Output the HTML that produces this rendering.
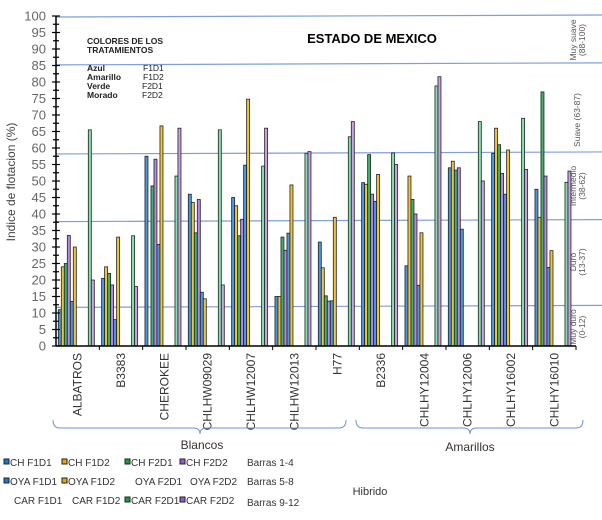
<!DOCTYPE html>
<html><head><meta charset="utf-8"><style>
html,body{margin:0;padding:0;background:#fff;}
svg{display:block;font-family:"Liberation Sans",sans-serif;}
</style></head><body>
<svg id="chart" width="602" height="520" viewBox="0 0 602 520" xmlns="http://www.w3.org/2000/svg">
<g id="grid"></g>
<g id="bars"></g>
<g id="axes"></g>
<text x="372" y="43" font-size="13" font-weight="bold" text-anchor="middle" fill="#000">ESTADO DE MEXICO</text>
<g font-size="8.5" font-weight="bold" fill="#222">
<text x="87" y="44">COLORES DE LOS</text><text x="87" y="53">TRATAMIENTOS</text>
<text x="87" y="71">Azul</text><text x="143" y="71" font-weight="normal">F1D1</text>
<text x="87" y="80">Amarillo</text><text x="143" y="80" font-weight="normal">F1D2</text>
<text x="87" y="89">Verde</text><text x="142" y="89" font-weight="normal">F2D1</text>
<text x="87" y="98">Morado</text><text x="142" y="98" font-weight="normal">F2D2</text>
</g>
<text transform="translate(15,182) rotate(-90)" font-size="12" text-anchor="middle" fill="#444">Indice de flotacion (%)</text>
<g font-size="8.5" fill="#555" text-anchor="middle">
<text transform="translate(576,40) rotate(-90)">Muy suave</text><text transform="translate(585,40) rotate(-90)">(88-100)</text>
<text transform="translate(580,120) rotate(-90)">Suave (63-87)</text>
<text transform="translate(576,186) rotate(-90)">Intermedio</text><text transform="translate(585,186) rotate(-90)">(38-62)</text>
<text transform="translate(576,262) rotate(-90)">Duro</text><text transform="translate(585,262) rotate(-90)">(13-37)</text>
<text transform="translate(576,327) rotate(-90)">Muy duro</text><text transform="translate(585,327) rotate(-90)">(0-12)</text>
</g>
<g fill="none" stroke="#6d93d6" stroke-width="1">
<path d="M53,420 Q53,428 60,428 L193,428 Q200,428 200,434 Q200,428 207,428 L339,428 Q346,428 346,420"/>
<path d="M356,420 Q356,428 363,428 L463,428 Q470,428 470,434 Q470,428 477,428 L576,428 Q583,428 583,420"/>
</g>
<text x="202" y="449" font-size="12" text-anchor="middle" fill="#333">Blancos</text>
<text x="470" y="451" font-size="12" text-anchor="middle" fill="#333">Amarillos</text>
<text x="370" y="495" font-size="11" text-anchor="middle" fill="#333">Hibrido</text>
<g id="legend" font-size="10" fill="#333"></g>
</svg>
<script>
const categories = ["ALBATROS","B3383","CHEROKEE","CHLHW09029","CHLHW12007","CHLHW12013","H77","B2336","CHLHY12004","CHLHY12006","CHLHY16002","CHLHY16010"];
const chF1D1 = [11,20.5,57.5,46,45,15,31.5,49.5,24.3,54,58.4,47.5];
const chF1D2 = [24,24,0,43.5,42.5,15,23.7,49,51.5,56,66,39];
const chF2D1 = [25,22,48.5,34.3,33.4,33,15.2,58,44.4,53.3,61,77];
const chF2D2 = [33.5,18.5,56.6,44.4,38.4,29,13.6,46,40,54,52.3,51.5];
const oyaF1D1 = [13.5,8,30.8,16.3,54.8,34.2,13.7,43.8,18.4,35.4,46,23.8];
const oyaF1D2 = [30,33,66.7,14.3,74.8,48.8,39,52,34.3,0,59.4,28.9];
const carF2D1 = [65.5,33.4,51.5,65.5,54.5,58.4,63.4,58.5,78.8,68,69,49.6];
const carF2D2 = [20,18,66,18.5,66,58.9,68,55,81.6,50,53.5,53];
const yTicks = [0,5,10,15,20,25,30,35,40,45,50,55,60,65,70,75,80,85,90,95,100];
const bandLines = [100,85.5,58.5,38,12];

const NS="http://www.w3.org/2000/svg";
const X0=56, X1=576, Y0=346, YTOP=16;
const catW=(X1-X0)/categories.length;
const barW=3;
function yScale(v){return Y0-(Y0-YTOP)*v/100;}
function xBar(ci,idx){return X0+ci*catW+2.3+idx*barW;}
function mk(tag,attrs,parent){const e=document.createElementNS(NS,tag);for(const k in attrs)e.setAttribute(k,attrs[k]);parent.appendChild(e);return e;}

const grid=document.getElementById('grid');
bandLines.forEach(v=>{
  const l=mk('line',{x1:X0,x2:602,y1:yScale(v)+1,y2:yScale(v)-1,stroke:'#7f9fdc','stroke-width':1.2},grid);
  
  
});

const series=[
 {name:'ch-f1d1',data:chF1D1,idx:0,fill:'#4a98e4'},
 {name:'ch-f1d2',data:chF1D2,idx:1,fill:'#f2c43a'},
 {name:'ch-f2d1',data:chF2D1,idx:2,fill:'#3cb46a'},
 {name:'ch-f2d2',data:chF2D2,idx:3,fill:'#b888e4'},
 {name:'oya-f1d1',data:oyaF1D1,idx:4,fill:'#4a98e4'},
 {name:'oya-f1d2',data:oyaF1D2,idx:5,fill:'#f2c43a'},
 {name:'car-f2d1',data:carF2D1,idx:10,fill:'#86e0aa'},
 {name:'car-f2d2',data:carF2D2,idx:11,fill:'#c9a2ec'}
];
const bars=document.getElementById('bars');
series.forEach(s=>{
  s.data.forEach((v,ci)=>{
    if(!v) return;
    const y=yScale(v);
    const r=mk('rect',{x:xBar(ci,s.idx),y:y,width:barW,height:Y0-y,fill:s.fill,stroke:'#222','stroke-width':0.8},bars);
    
    
  });
});

const axes=document.getElementById('axes');
const ya=mk('line',{x1:X0,x2:X0,y1:YTOP,y2:Y0,stroke:'#000','stroke-width':1.5},axes);


for(let v=0;v<=100;v+=2.5){
  const major=(v%5===0);
  mk('line',{x1:major?X0-4:X0-3,x2:major?X0+4:X0+3,y1:yScale(v),y2:yScale(v),stroke:'#000','stroke-width':1.2},axes);
}
yTicks.forEach(v=>{
  const t=mk('text',{x:X0-10,y:yScale(v)+4.5,'font-size':13,'text-anchor':'end',fill:'#666'},axes);
  t.textContent=v;
  
  
});
const xa=mk('line',{x1:X0,x2:X1,y1:Y0,y2:Y0,stroke:'#000','stroke-width':1.5},axes);


categories.forEach((c,ci)=>{
  mk('line',{x1:X0+(ci+1)*catW,x2:X0+(ci+1)*catW,y1:Y0,y2:Y0+4,stroke:'#000','stroke-width':1},axes);
  const cx=X0+ci*catW+catW/2;
  const t=mk('text',{transform:'translate('+(cx+4)+','+(Y0+7)+') rotate(-90)','font-size':12,'text-anchor':'end',fill:'#333'},axes);
  t.textContent=c;
  
  
});

const legendItems=[
 [7,466,'#1d78cc','CH F1D1'],[65,466,'#e8a800','CH F1D2'],[128,466,'#1c9a48','CH F2D1'],[183,466,'#9a58d0','CH F2D2'],[247,466,null,'Barras 1-4'],
 [7,485,'#1d78cc','OYA F1D1'],[65,485,'#e8a800','OYA F1D2'],[128,485,null,'  OYA F2D1'],[183,485,null,'  OYA F2D2'],[247,485,null,'Barras 5-8'],
 [7,504,null,'  CAR F1D1'],[65,504,null,'  CAR F1D2'],[128,504,'#1c9a48','CAR F2D1'],[183,504,'#9a58d0','CAR F2D2'],[247,506,null,'Barras 9-12']
];
const lg=document.getElementById('legend');
legendItems.forEach(it=>{
  const g=mk('g',{},lg);
  
  
  if(it[2]){mk('rect',{x:it[0]-3,y:it[1]-7,width:5,height:5,fill:it[2],stroke:'#222','stroke-width':1},g);}
  const t=mk('text',{x:it[0]+(it[2]?3:(it[3].startsWith('  ')?7:0)),y:it[1]},g);
  t.textContent=it[3].trim();
});
</script>
</body></html>
